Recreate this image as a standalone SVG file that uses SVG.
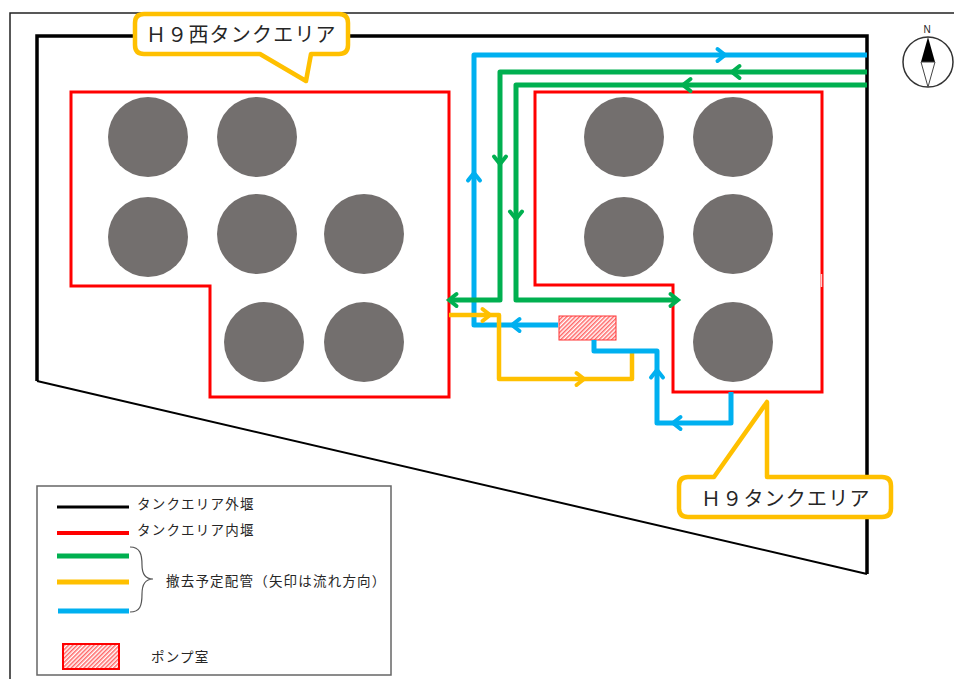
<svg xmlns="http://www.w3.org/2000/svg" xmlns:xlink="http://www.w3.org/1999/xlink" width="954" height="679" viewBox="0 0 954 679">
<style>
text{font-family:"Liberation Sans","Noto Sans CJK JP",sans-serif;fill:#262626}
.callout{font-size:20px;letter-spacing:1.200px}
.leg{font-size:13.500px;letter-spacing:1.200px}
.wall{fill:none;stroke:#000;stroke-linejoin:miter}
.red{fill:none;stroke:#f00;stroke-width:3}
.tank{fill:#736f6e}
.pipe{fill:none;stroke-width:5;stroke-linejoin:round}
.thin{stroke-width:4.500}
.g{stroke:#00b050}.y{stroke:#ffc000}.b{stroke:#00b0f0}
.ah{fill:none;stroke-width:4;stroke-linecap:round;stroke-linejoin:miter}
.co{fill:#fff;stroke:#ffc000;stroke-width:4.500;stroke-linejoin:round}
</style>
<defs>
<pattern id="hatch" width="3" height="3" patternUnits="userSpaceOnUse" patternTransform="rotate(-45)">
<rect width="3" height="3" fill="#fff"/><rect width="3" height="1.500" fill="#f66"/>
</pattern>
<path id="ah" d="M-7.500,-6 L0,0 L-7.500,6"/>
</defs>
<rect width="954" height="679" fill="#fff"/>
<path d="M10,679 V13 H954" fill="none" stroke="#222" stroke-width="1.500"/>
<g id="outer-wall">
<path class="wall" stroke-width="3.500" d="M37,381 V36 H867 V574"/>
<path class="wall" stroke-width="2" d="M37,381 L867,574"/>
</g>
<g id="west-area">
<path class="red" d="M71,92 H449 V397 H210 V286 H71 Z"/>
<circle class="tank" cx="148" cy="137" r="40"/><circle class="tank" cx="257" cy="137" r="40"/>
<circle class="tank" cx="148" cy="237" r="40"/><circle class="tank" cx="257" cy="234" r="40"/>
<circle class="tank" cx="364" cy="234" r="40"/><circle class="tank" cx="264" cy="342" r="40"/>
<circle class="tank" cx="364" cy="342" r="40"/>
</g>
<g id="east-area">
<path class="red" d="M535,92 H822 V392 H673 V285 H535 Z"/>
<circle class="tank" cx="624" cy="137" r="40"/><circle class="tank" cx="733" cy="137" r="40"/>
<circle class="tank" cx="624" cy="237" r="40"/><circle class="tank" cx="733" cy="234" r="40"/>
<circle class="tank" cx="733" cy="342" r="40"/>
</g>
<g id="pump-room"><rect x="559" y="316" width="57" height="24" fill="url(#hatch)" stroke="#f33" stroke-width="1"/></g>
<g id="connectors">
<path class="pipe b" d="M867,55 H474 V325 H558"/>
<path class="pipe g" d="M867,72 H500 V300 H450"/>
<path class="pipe g" d="M867,85 H516 V300 H676"/>
<path class="pipe y thin" d="M449,315 H499 V379 H632 V353"/>
<path class="pipe b" d="M594,340 V351 H657 V423 H731 V392"/>
<use href="#ah" class="ah b" transform="translate(725,55)"/>
<use href="#ah" class="ah g" transform="translate(732,72) rotate(180)"/>
<use href="#ah" class="ah g" transform="translate(683,85) rotate(180)"/>
<use href="#ah" class="ah b" transform="translate(474,173) rotate(-90)"/>
<use href="#ah" class="ah g" transform="translate(500,164) rotate(90)"/>
<use href="#ah" class="ah g" transform="translate(516,219) rotate(90)"/>
<use href="#ah" class="ah g" transform="translate(449,300) rotate(180)"/>
<use href="#ah" class="ah g" transform="translate(678,300)"/>
<use href="#ah" class="ah y" transform="translate(490,315)"/>
<use href="#ah" class="ah y" transform="translate(584,379)"/>
<use href="#ah" class="ah b" transform="translate(512,325) rotate(180)"/>
<use href="#ah" class="ah b" transform="translate(657,370) rotate(-90)"/>
<use href="#ah" class="ah b" transform="translate(673,423) rotate(180)"/>
<path d="M822,274 V287" stroke="#fff" stroke-width="1.500" transform="translate(-.5,0)" opacity=".8"/>
</g>
<g id="label-west">
<path class="co" d="M144,14 H339 Q348,14 348,23 V45 Q348,54 339,54 H311 L306,81 L260,54 H144 Q135,54 135,45 V23 Q135,14 144,14 Z"/>
<text class="callout" x="146" y="42">Ｈ９西タンクエリア</text>
</g>
<g id="label-east">
<path class="co" d="M688,477 H714 L767,402 V477 H882 Q891,477 891,486 V508 Q891,517 882,517 H688 Q679,517 679,508 V486 Q679,477 688,477 Z"/>
<text class="callout" x="701" y="506">Ｈ９タンクエリア</text>
</g>
<g id="compass">
<circle cx="928" cy="62" r="25" fill="#fff" stroke="#333" stroke-width="1.500"/>
<path d="M928,37 L921,62 H935 Z" fill="#000"/>
<path d="M921,62 L928,87 L935,62 Z" fill="#fff" stroke="#444"/>
<text x="927" y="33" font-size="10" text-anchor="middle">N</text>
</g>
<g id="legend">
<rect x="37" y="486" width="354" height="189" fill="#fff" stroke="#666" stroke-width="1.500"/>
<path d="M57,507 H129" stroke="#000" stroke-width="3"/>
<path d="M57,533 H129" stroke="#f00" stroke-width="4"/>
<path d="M57,556 H129" stroke="#00b050" stroke-width="5"/>
<path d="M57,582 H129" stroke="#ffc000" stroke-width="5"/>
<path d="M58,611 H129" stroke="#00b0f0" stroke-width="5"/>
<path d="M130,547 C140,547 142,554 142,565 C142,574 146,579 153,579 C146,579 142,584 142,594 C142,606 140,612 130,612" fill="none" stroke="#555" stroke-width="1.200"/>
<text class="leg" x="137" y="509">タンクエリア外堰</text>
<text class="leg" x="137" y="535">タンクエリア内堰</text>
<text class="leg" x="166" y="586">撤去予定配管（矢印は流れ方向）</text>
<rect x="63" y="644" width="56" height="25" fill="url(#hatch)" stroke="#f00" stroke-width="2"/>
<text class="leg" x="151" y="662">ポンプ室</text>
</g>
</svg>
